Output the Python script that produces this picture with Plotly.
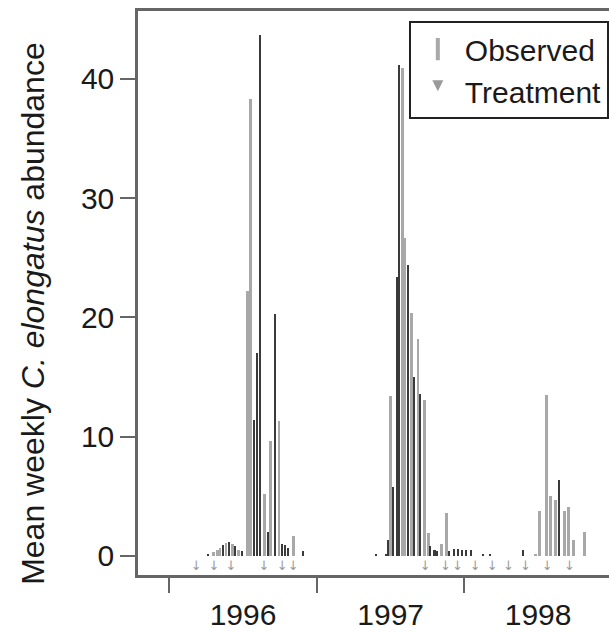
import plotly.graph_objects as go

# ---- data ----
grey_dates = [
    "1996-04-19", "1996-04-29", "1996-05-06", "1996-05-21", "1996-06-05", "1996-06-20",
    "1996-07-13", "1996-07-21", "1996-08-24", "1996-09-08", "1996-09-29", "1996-11-03",
    "1997-07-02", "1997-08-01", "1997-08-07", "1997-08-23", "1997-09-08", "1997-09-24",
    "1997-10-04", "1997-11-05", "1997-11-18",
    "1998-06-26", "1998-07-06", "1998-07-23", "1998-08-02", "1998-08-14", "1998-09-06",
    "1998-09-15", "1998-09-28", "1998-10-25",
]
grey_values = [
    0.3, 0.5, 0.7, 1.1, 1.0, 0.5,
    22.2, 38.3, 5.2, 9.6, 11.3, 1.7,
    13.4, 40.9, 26.7, 20.4, 18.2, 13.1,
    1.9, 1.0, 3.6,
    0.1, 3.8, 13.5, 5.0, 4.7, 3.8,
    4.1, 1.3, 2.0,
]

dark_dates = [
    "1996-04-07", "1996-05-14", "1996-05-29", "1996-06-12", "1996-06-30",
    "1996-07-28", "1996-08-05", "1996-08-12", "1996-09-01", "1996-09-19",
    "1996-10-07", "1996-10-14", "1996-10-22", "1996-11-28",
    "1997-05-26", "1997-06-20", "1997-06-27", "1997-07-09", "1997-07-17", "1997-07-24",
    "1997-08-14", "1997-08-29", "1997-09-14", "1997-10-09", "1997-10-19", "1997-10-24",
    "1997-11-25", "1997-12-07", "1997-12-15", "1997-12-25",
    "1998-01-06", "1998-01-18", "1998-02-15", "1998-03-06", "1998-05-25", "1998-08-23",
]
dark_values = [
    0.2, 0.9, 1.2, 0.8, 0.4,
    11.4, 17.0, 43.7, 2.0, 20.3,
    1.0, 0.9, 0.7, 0.4,
    0.2, 0.2, 1.3, 5.8, 23.4, 41.2,
    24.4, 15.0, 13.6, 0.8, 0.5, 0.4,
    0.4, 0.6, 0.6, 0.5,
    0.5, 0.5, 0.2, 0.2, 0.5, 6.4,
]

treatment_dates = [
    "1996-03-08", "1996-04-21", "1996-06-02", "1996-08-23", "1996-10-07", "1996-11-03",
    "1997-09-26", "1997-11-15", "1997-12-15",
    "1998-01-28", "1998-03-11", "1998-04-20", "1998-06-01", "1998-07-25", "1998-09-18",
]
treatment_level = -0.9

y_ticks = [0, 10, 20, 30, 40]

DAY_MS = 86400000
FONT = "Liberation Sans, Arial, Helvetica, sans-serif"
TXT = "#1a1a1a"
AXC = "#666666"
GREY = "#a8a8a8"
ARROW = "#9a9a9a"

fig = go.Figure()

fig.add_trace(go.Bar(
    x=grey_dates, y=grey_values, width=[7 * DAY_MS] * len(grey_dates),
    marker=dict(color=GREY, line=dict(width=0)), showlegend=False,
))
fig.add_trace(go.Bar(
    x=dark_dates, y=dark_values, width=[5 * DAY_MS] * len(dark_dates),
    marker=dict(color="#3a3a3a", line=dict(width=0)), showlegend=False,
))
fig.add_trace(go.Scatter(
    x=treatment_dates, y=[treatment_level] * len(treatment_dates),
    mode="text", text=["↓"] * len(treatment_dates),
    textfont=dict(size=13, color=ARROW, family="DejaVu Sans"),
    showlegend=False, hoverinfo="skip",
))

# legend entries
fig.add_trace(go.Scatter(
    x=[None], y=[None], mode="markers", name="Observed",
    marker=dict(symbol="line-ns-open", size=20, color=GREY,
                line=dict(width=4, color=GREY)),
))
fig.add_trace(go.Scatter(
    x=[None], y=[None], mode="markers", name="Treatment",
    marker=dict(symbol="arrow-down", size=11, color=ARROW),
))

fig.update_layout(
    width=609, height=632,
    margin=dict(l=138, r=0, t=11, b=57, pad=0),
    plot_bgcolor="white", paper_bgcolor="white",
    barmode="overlay", bargap=0,
    font=dict(family=FONT, size=30, color=TXT),
    showlegend=True,
    legend=dict(
        x=0.575, y=0.982, xanchor="left", yanchor="top",
        bordercolor="#222222", borderwidth=2, bgcolor="white",
        font=dict(size=30, color=TXT), itemsizing="trace",
        itemwidth=44, tracegroupgap=0,
    ),
    annotations=[dict(
        text="Mean weekly <i>C. elongatus</i> abundance",
        textangle=-90, xref="paper", yref="paper",
        x=0, y=0.463, xanchor="center", yanchor="middle",
        xshift=-105, showarrow=False,
        font=dict(size=32, color=TXT, family=FONT),
    )],
)

fig.update_xaxes(
    type="date",
    range=["1995-10-16", "1998-12-25"],
    tick0="1996-01-01", dtick="M12", tickformat="%Y",
    ticklabelmode="period", ticklabelstandoff=-4,
    ticks="outside", ticklen=15, tickwidth=2, tickcolor=AXC,
    showline=True, linecolor=AXC, linewidth=2.5, mirror=True,
    showgrid=False, zeroline=False,
    tickfont=dict(size=30, color=TXT),
)
fig.update_yaxes(
    range=[-1.6, 45.7],
    tickvals=y_ticks,
    ticks="outside", ticklen=15, tickwidth=2, tickcolor=AXC,
    showline=True, linecolor=AXC, linewidth=2.5, mirror=False,
    showgrid=False, zeroline=False,
    tickfont=dict(size=30, color=TXT),
)

fig.write_html("out.html", config={"displayModeBar": False},
               post_script="document.body.style.margin='0px';")
